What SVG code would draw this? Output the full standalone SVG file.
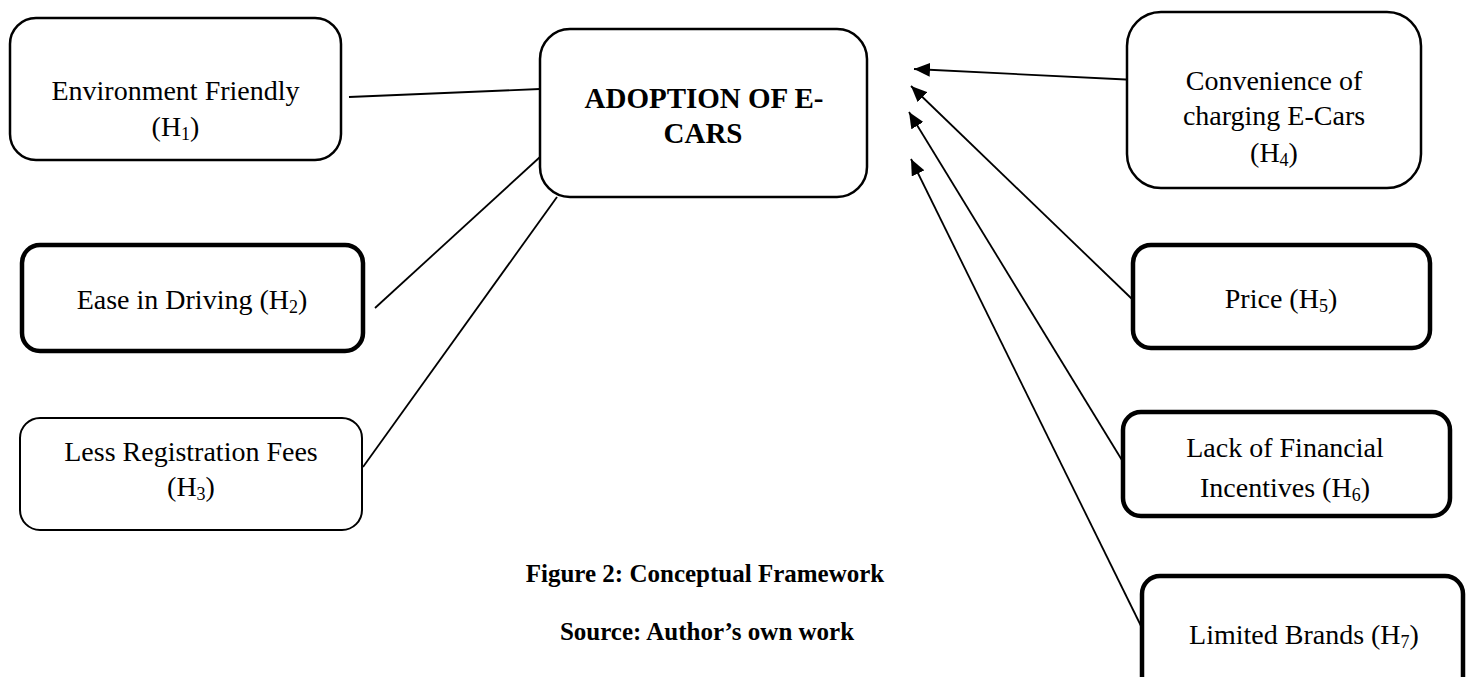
<svg xmlns="http://www.w3.org/2000/svg" width="1466" height="677" viewBox="0 0 1466 677">
<style>
.box{fill:#fff;stroke:#000;stroke-width:2.5}
.thick{stroke-width:4.5}
.thin{stroke-width:2}
.t{font-family:"Liberation Serif","Times New Roman",serif;font-size:28px;fill:#000;text-anchor:middle}
.b{font-family:"Liberation Serif","Times New Roman",serif;font-size:29px;font-weight:bold;fill:#000;text-anchor:middle}
.cap{font-family:"Liberation Serif","Times New Roman",serif;font-size:25px;font-weight:bold;fill:#000;text-anchor:middle}
.s{font-size:18px}
.ln{stroke:#000;stroke-width:1.8;fill:none}
</style>
<defs>
<marker id="arr" markerUnits="userSpaceOnUse" markerWidth="18" markerHeight="14" refX="16" refY="7" orient="auto">
<path d="M0,0 L16,7 L0,14 z" fill="#000"/>
</marker>
</defs>
<rect width="1466" height="677" fill="#fff"/>
<g id="connectors">
<line class="ln" x1="349" y1="97" x2="540" y2="89"/>
<line class="ln" x1="375" y1="308" x2="540" y2="157"/>
<line class="ln" x1="363" y1="467" x2="557" y2="197"/>
<line class="ln" x1="1136" y1="80" x2="914" y2="69" marker-end="url(#arr)"/>
<line class="ln" x1="1132" y1="299" x2="911" y2="86" marker-end="url(#arr)"/>
<line class="ln" x1="1128" y1="470" x2="909" y2="112" marker-end="url(#arr)"/>
<line class="ln" x1="1142" y1="628" x2="911" y2="159" marker-end="url(#arr)"/>
</g>
<g id="n1">
<rect class="box" x="10" y="18" width="331" height="142" rx="26"/>
<text class="t" x="175.5" y="100">Environment Friendly</text>
<text class="t" x="175.5" y="136">(H<tspan class="s" dy="4">1</tspan><tspan dy="-4">)</tspan></text>
</g>
<g id="center">
<rect class="box" x="540" y="29" width="327" height="168" rx="30"/>
<text class="b" x="704" y="108">ADOPTION OF E-</text>
<text class="b" x="703" y="143">CARS</text>
</g>
<g id="n2">
<rect class="box thick" x="22" y="245" width="341" height="106" rx="18"/>
<text class="t" x="192" y="309">Ease in Driving (H<tspan class="s" dy="4">2</tspan><tspan dy="-4">)</tspan></text>
</g>
<g id="n3">
<rect class="box thin" x="20" y="418" width="342" height="112" rx="20"/>
<text class="t" x="191" y="461">Less Registration Fees</text>
<text class="t" x="191" y="496">(H<tspan class="s" dy="4">3</tspan><tspan dy="-4">)</tspan></text>
</g>
<g id="n4">
<rect class="box" x="1127" y="12" width="294" height="176" rx="34"/>
<text class="t" x="1274" y="90">Convenience of</text>
<text class="t" x="1274" y="125">charging E-Cars</text>
<text class="t" x="1274" y="162">(H<tspan class="s" dy="4">4</tspan><tspan dy="-4">)</tspan></text>
</g>
<g id="n5">
<rect class="box thick" x="1133" y="245" width="297" height="103" rx="18"/>
<text class="t" x="1281" y="308">Price (H<tspan class="s" dy="4">5</tspan><tspan dy="-4">)</tspan></text>
</g>
<g id="n6">
<rect class="box thick" x="1123" y="412" width="327" height="104" rx="18"/>
<text class="t" x="1285" y="457">Lack of Financial</text>
<text class="t" x="1285" y="497">Incentives (H<tspan class="s" dy="4">6</tspan><tspan dy="-4">)</tspan></text>
</g>
<g id="n7">
<rect class="box thick" x="1142" y="576" width="321" height="140" rx="18"/>
<text class="t" x="1304" y="644">Limited Brands (H<tspan class="s" dy="4">7</tspan><tspan dy="-4">)</tspan></text>
</g>
<g id="caption">
<text class="cap" x="705" y="582">Figure 2: Conceptual Framework</text>
<text class="cap" x="707" y="640">Source: Author’s own work</text>
</g>
</svg>
